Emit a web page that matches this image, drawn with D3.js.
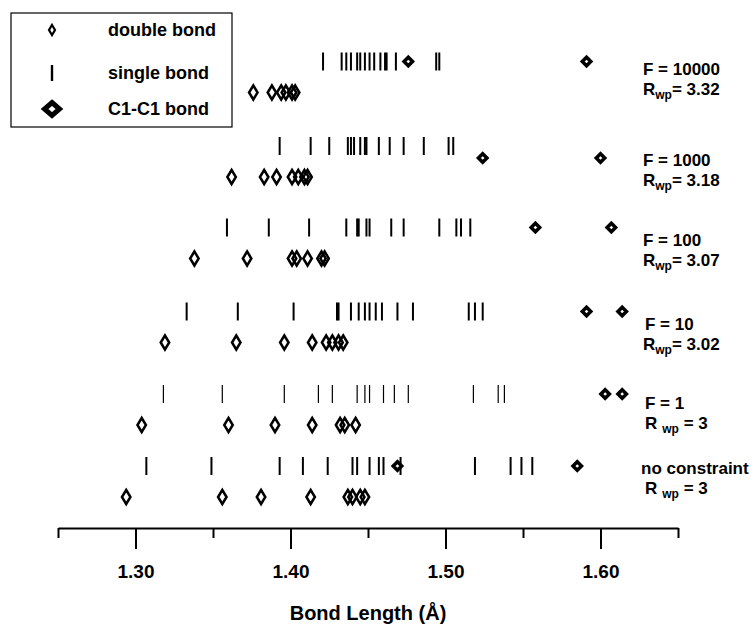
<!DOCTYPE html>
<html>
<head>
<meta charset="utf-8">
<script src="https://cdn.jsdelivr.net/npm/d3@7"></script>
<style>
  body { margin: 0; background: #fff; }
  text { font-family: "Liberation Sans", Arial, Helvetica, sans-serif; font-weight: bold; fill: #000; }
</style>
</head>
<body>
<div id="chart"></div>
<script>
// rows, top to bottom
const conditions = ["F = 10000", "F = 1000", "F = 100", "F = 10", "F = 1", "no constraint"];
const rwpValues = ["3.32", "3.18", "3.07", "3.02", "3", "3"];

// single bond lengths per row (Å)
const singleBonds = [
  [1.421, 1.433, 1.436, 1.439, 1.443, 1.445, 1.448, 1.451, 1.454, 1.458, 1.461, 1.462, 1.468, 1.494, 1.496],
  [1.393, 1.413, 1.425, 1.437, 1.439, 1.441, 1.445, 1.448, 1.449, 1.457, 1.464, 1.473, 1.486, 1.502, 1.505],
  [1.359, 1.386, 1.412, 1.436, 1.443, 1.444, 1.449, 1.451, 1.465, 1.473, 1.496, 1.507, 1.510, 1.516],
  [1.333, 1.366, 1.402, 1.430, 1.431, 1.439, 1.444, 1.448, 1.451, 1.455, 1.459, 1.469, 1.479, 1.515, 1.519, 1.524],
  [1.318, 1.356, 1.396, 1.418, 1.427, 1.443, 1.448, 1.451, 1.460, 1.467, 1.476, 1.518, 1.534, 1.538],
  [1.307, 1.349, 1.393, 1.408, 1.424, 1.440, 1.443, 1.451, 1.457, 1.460, 1.471, 1.519, 1.542, 1.549, 1.556]
];

// C1-C1 bond lengths per row
const c1Bonds = [
  [1.476, 1.591],
  [1.524, 1.600],
  [1.558, 1.607],
  [1.591, 1.614],
  [1.603, 1.614],
  [1.469, 1.585]
];

// double bond lengths per row
const doubleBonds = [
  [1.376, 1.388, 1.394, 1.397, 1.401, 1.403],
  [1.362, 1.383, 1.391, 1.401, 1.405, 1.409, 1.411],
  [1.338, 1.372, 1.401, 1.404, 1.411, 1.420, 1.422],
  [1.319, 1.365, 1.396, 1.414, 1.423, 1.427, 1.431, 1.434],
  [1.304, 1.360, 1.390, 1.414, 1.432, 1.435, 1.442],
  [1.294, 1.356, 1.381, 1.413, 1.437, 1.440, 1.445, 1.448]
];

const majorTicks = [1.30, 1.40, 1.50, 1.60];
const minorTicks = [1.25, 1.35, 1.45, 1.55, 1.65];
const legendItems = ["double bond", "single bond", "C1-C1 bond"];

// ---- layout ----
const width = 756;
const height = 625;
const AXIS_Y = 528;
const DBL_OFFSET = 31;      // double bond row below stick row
const STICK_H = 18;
const LABEL_X = 641;
const ROW_Y = [61.5, 146, 227.5, 311.5, 394, 466];
const LABEL_DY = [7, 14, 12, 12, 9, 2];   // label centre below row centre

const svg = d3.select("#chart").append("svg")
  .attr("width", width)
  .attr("height", height);

const x = d3.scaleLinear().domain([1.25, 1.65]).range([58, 678]);
const y = d3.scaleOrdinal().domain(conditions).range(ROW_Y);

// diamond path centred on 0,0
function diamond(w, h) {
  return `M0,${-h / 2}L${w / 2},0L0,${h / 2}L${-w / 2},0Z`;
}

conditions.forEach((cond, i) => {
  const g = svg.append("g");
  const yc = y(cond);
  const thin = cond === "F = 1";
  const spaced = cond === "F = 1" || cond === "no constraint";

  // single bonds
  g.selectAll("line.single")
    .data(singleBonds[i])
    .enter()
    .append("line")
    .attr("x1", d => x(d)).attr("x2", d => x(d))
    .attr("y1", yc - STICK_H / 2).attr("y2", yc + STICK_H / 2)
    .attr("stroke", "#000")
    .attr("stroke-width", thin ? 1.2 : 2);

  // C1-C1 bonds
  const c1Shift = cond === "F = 1000" ? 12 : 0;
  g.selectAll("path.c1")
    .data(c1Bonds[i])
    .enter()
    .append("path")
    .attr("d", diamond(8.5, 8.5))
    .attr("transform", d => `translate(${x(d)},${yc + c1Shift})`)
    .attr("fill", "#fff")
    .attr("stroke", "#000")
    .attr("stroke-width", 3.5);

  // double bonds
  g.selectAll("path.dbl")
    .data(doubleBonds[i])
    .enter()
    .append("path")
    .attr("d", diamond(8.5, 14))
    .attr("transform", d => `translate(${x(d)},${yc + DBL_OFFSET})`)
    .attr("fill", "none")
    .attr("stroke", "#000")
    .attr("stroke-width", 2.5);

  // right-hand labels
  const lab = svg.append("g")
    .attr("transform", `translate(${LABEL_X},${yc + LABEL_DY[i]})`);
  lab.append("text")
    .attr("x", (cond === "F = 10" || cond === "F = 1") ? 4 : (cond === "no constraint" ? 0 : 2))
    .attr("y", 6)
    .style("font-size", "17px")
    .text(cond);
  const r = lab.append("text")
    .attr("x", spaced ? 4 : 2)
    .attr("y", 26)
    .style("font-size", "17px");
  r.append("tspan").text("R");
  r.append("tspan")
    .attr("dx", spaced ? 5 : 0)
    .attr("dy", 4)
    .style("font-size", "12px")
    .text("wp");
  r.append("tspan")
    .attr("dy", -4)
    .text((spaced ? " = " : "= ") + rwpValues[i]);
});

// ---- axis ----
const axisMajor = d3.axisBottom(x)
  .tickValues(majorTicks)
  .tickSize(21)
  .tickPadding(17)
  .tickFormat(d3.format(".2f"))
  .tickSizeOuter(0);

const gx = svg.append("g")
  .attr("transform", `translate(0,${AXIS_Y})`)
  .call(axisMajor);
gx.select(".domain").attr("stroke-width", 2);
gx.selectAll(".tick line").attr("stroke-width", 2);
gx.selectAll(".tick text")
  .attr("dy", null)
  .attr("y", 50)
  .style("font-size", "19px")
  .style("font-family", "'Liberation Sans', Arial, sans-serif")
  .style("font-weight", "bold");

const gMinor = svg.append("g")
  .attr("transform", `translate(0,${AXIS_Y})`)
  .call(d3.axisBottom(x).tickValues(minorTicks).tickSize(10).tickFormat(""));
gMinor.select(".domain").remove();
gMinor.selectAll(".tick line").attr("stroke-width", 2);

svg.append("text")
  .attr("x", (x(1.25) + x(1.65)) / 2)
  .attr("y", 620)
  .attr("text-anchor", "middle")
  .style("font-size", "20px")
  .text("Bond Length (Å)");

// ---- legend ----
const legend = svg.append("g");
legend.append("rect")
  .attr("x", 11).attr("y", 13)
  .attr("width", 221).attr("height", 114)
  .attr("fill", "none")
  .attr("stroke", "#000")
  .attr("stroke-width", 1.2);

const legendY = d3.scaleOrdinal().domain(legendItems).range([30, 73, 109]);

legend.append("path")
  .attr("d", diamond(6, 10))
  .attr("transform", `translate(52,${legendY("double bond")})`)
  .attr("fill", "none")
  .attr("stroke", "#000")
  .attr("stroke-width", 2.2);

legend.append("line")
  .attr("x1", 52).attr("x2", 52)
  .attr("y1", legendY("single bond") - 8)
  .attr("y2", legendY("single bond") + 8)
  .attr("stroke", "#000")
  .attr("stroke-width", 2.4);

legend.append("path")
  .attr("d", diamond(15, 13))
  .attr("transform", `translate(52,${legendY("C1-C1 bond")})`)
  .attr("fill", "#fff")
  .attr("stroke", "#000")
  .attr("stroke-width", 5);

legend.selectAll("text.leg")
  .data(legendItems)
  .enter()
  .append("text")
  .attr("x", 108)
  .attr("y", d => legendY(d) + 6)
  .style("font-size", "18px")
  .text(d => d);
</script>
</body>
</html>
